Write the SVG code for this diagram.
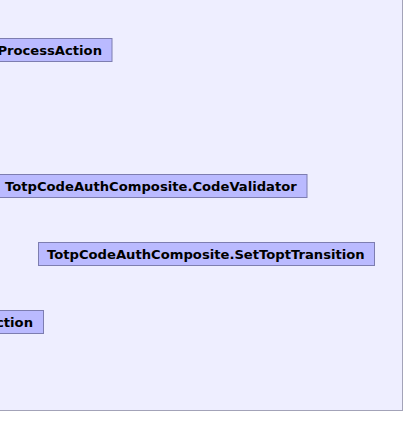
<svg xmlns="http://www.w3.org/2000/svg" width="405" height="448" viewBox="0 0 405 448">
<style>
.panel{fill:#eeeeff;stroke:#a3a3b8;stroke-width:1}
.node rect{fill:#babaff;stroke:#7d7db0;stroke-width:1}
.node text{font-family:"DejaVu Sans",sans-serif;font-weight:bold;font-size:13.15px;fill:#000}
</style>
<rect width="405" height="448" fill="#ffffff"/>
<rect class="panel" x="-10" y="-10" width="412.5" height="420.5"/>
<g id="connectors"></g>
<g id="node-process-action" class="node">
<rect x="-10" y="38.5" width="122" height="23"/>
<text x="102" y="55" text-anchor="end">ProcessAction</text>
</g>
<g id="node-code-validator" class="node">
<rect x="-4.5" y="174.5" width="311.5" height="23"/>
<text x="5" y="191">TotpCodeAuthComposite.CodeValidator</text>
</g>
<g id="node-set-topt-transition" class="node">
<rect x="38.5" y="242.5" width="336" height="23"/>
<text x="47" y="259">TotpCodeAuthComposite.SetToptTransition</text>
</g>
<g id="node-action" class="node">
<rect x="-10" y="310.5" width="53.5" height="23"/>
<text x="33" y="327" text-anchor="end">ction</text>
</g>
</svg>
